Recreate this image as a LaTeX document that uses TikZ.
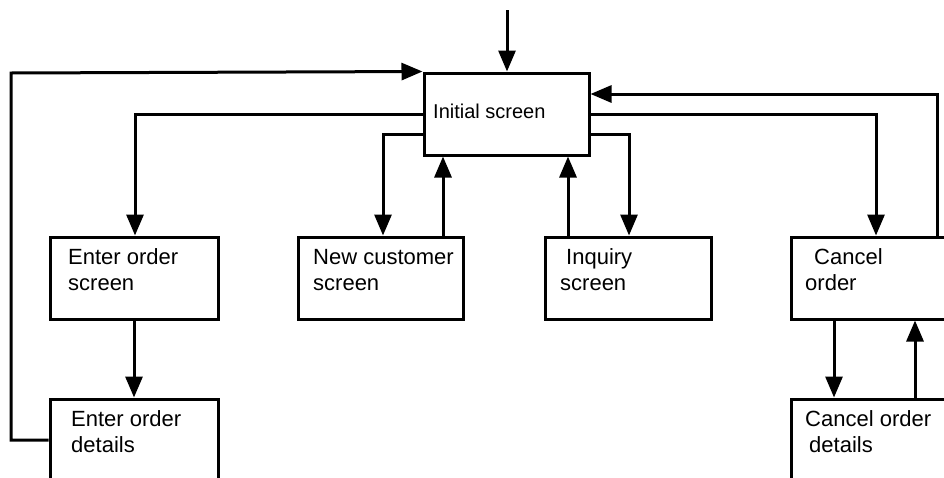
\documentclass[tikz,border=0pt]{standalone}
\usepackage{fontspec}
\setmainfont{Liberation Sans}
\usetikzlibrary{arrows.meta}
\begin{document}
\begin{tikzpicture}[x=1pt,y=-1pt,
  box/.style={draw,line width=3pt,inner sep=0pt},
  arr/.style={line width=3pt,-{Triangle[length=21pt,width=17pt]}},
  lbl/.style={anchor=base west,inner sep=0pt,align=left,font=\fontsize{22}{26}\selectfont}]
\useasboundingbox (0,0) rectangle (944,477);
\clip (0,0) rectangle (944,477);
% boxes
\node[box,minimum width=165pt,minimum height=82pt] (init) at (506.5,114) {};
\node[box,minimum width=168pt,minimum height=82pt] (eos) at (134,278) {};
\node[box,minimum width=168pt,minimum height=121pt] (eod) at (134,459.5) {};
\node[box,minimum width=165pt,minimum height=82pt] (nc) at (380.5,278) {};
\node[box,minimum width=166pt,minimum height=82pt] (inq) at (628,278) {};
\node[box,minimum width=209pt,minimum height=82pt] (co) at (895.5,278) {};
\node[box,minimum width=209pt,minimum height=121pt] (cod) at (895.5,459.5) {};
% labels (base = baseline of last line)
\node[lbl,font=\fontsize{20}{24}\selectfont] (tinit) at (433,118) {Initial screen};
\node[lbl] (teos) at (68,290) {Enter order\\screen};
\node[lbl] (teod) at (71,452) {Enter order\\details};
\node[lbl] (tnc) at (313,290) {New customer\\screen};
\node[lbl] (tinq) at (560,290) {\hspace*{6pt}Inquiry\\screen};
\node[lbl] (tco) at (805,290) {\hspace*{9pt}Cancel\\order};
\node[lbl] (tcod) at (805,452) {Cancel order\\\hspace*{4pt}details};
% connectors
\coordinate (top) at (507,10);
\draw[arr] (top) -- (top |- init.north);
\coordinate (L1) at (11,440);
\coordinate (L2) at (11,73);
\draw[arr] (eod.west |- L1) -- (L1) -- (L2) -- (init.north west);
\coordinate (a1) at (135,114);
\draw[arr] (init.west |- a1) -| (a1 |- eos.north);
\coordinate (a2) at (383,134);
\draw[arr] (init.west |- a2) -| (a2 |- nc.north);
\coordinate (a3) at (443,0);
\draw[arr] (a3 |- nc.north) -- (a3 |- init.south);
\coordinate (a4) at (568,0);
\draw[arr] (a4 |- inq.north) -- (a4 |- init.south);
\coordinate (a5) at (629,134);
\draw[arr] (init.east |- a5) -| (a5 |- inq.north);
\coordinate (a6) at (876,114);
\draw[arr] (init.east |- a6) -| (a6 |- co.north);
\coordinate (a7) at (937,94);
\draw[arr] (a7 |- co.north) -- (a7) -- (init.east |- a7);
\draw[arr] (eos.south) -- (eod.north);
\coordinate (a8) at (834,0);
\draw[arr] (a8 |- co.south) -- (a8 |- cod.north);
\coordinate (a9) at (915,0);
\draw[arr] (a9 |- cod.north) -- (a9 |- co.south);
\end{tikzpicture}
\end{document}
